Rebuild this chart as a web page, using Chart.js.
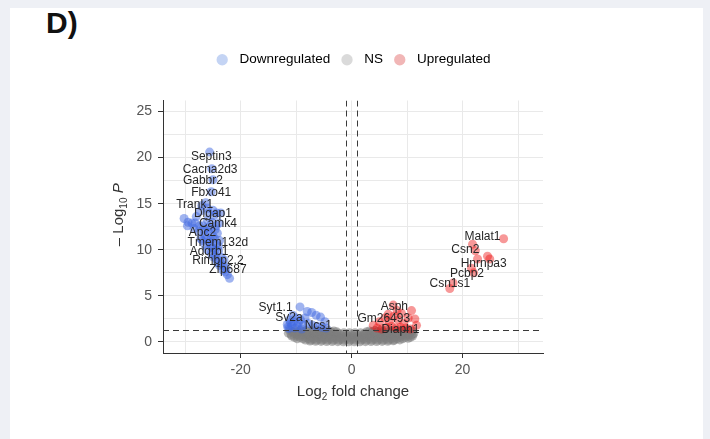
<!DOCTYPE html>
<html>
<head>
<meta charset="utf-8">
<script src="https://cdn.jsdelivr.net/npm/chart.js@4.4.1/dist/chart.umd.min.js"></script>
<style>
  html, body { margin: 0; padding: 0; }
  body { width: 710px; height: 439px; background: #eef0f5; position: relative; overflow: hidden; font-family: "Liberation Sans", Arial, sans-serif; }
  #panel { position: absolute; left: 10px; top: 8px; width: 693px; height: 431px; background: #fff; }
  #tag { position: absolute; left: 36px; top: 0px; font: bold 30px/30px "Liberation Sans", Arial, sans-serif; color: #111; }
  #volcano { position: absolute; left: 0; top: 0; }
</style>
</head>
<body>
<div id="panel">
  <div id="tag">D)</div>
  <canvas id="volcano" width="693" height="431"></canvas>
</div>
<script>
// ---------------------
// Data: [log2 fold change, -log10 p]
// ---------------------
const downPoints = [
  [-25.6, 20.6], [-25.2, 18.8], [-25.0, 17.6], [-25.3, 16.3], [-26.3, 15.1], [-27.0, 14.8],
  [-30.2, 13.4], [-29.5, 13.0], [-28.8, 12.9], [-28.0, 13.6], [-27.3, 14.2], [-26.0, 14.5],
  [-25.0, 14.3], [-24.3, 14.0], [-23.6, 14.0],
  [-28.4, 12.3], [-27.6, 12.0], [-26.8, 12.6], [-26.0, 13.2], [-25.2, 13.0], [-24.4, 12.6], [-23.9, 12.9],
  [-27.2, 11.2], [-26.5, 11.6], [-25.8, 11.9], [-25.0, 11.5], [-24.2, 11.8],
  [-26.4, 10.5], [-25.7, 10.8], [-25.0, 10.2], [-24.4, 10.6], [-23.8, 11.0],
  [-25.3, 9.6], [-24.6, 9.4], [-24.0, 9.9], [-23.5, 9.2],
  [-24.2, 8.6], [-23.5, 8.5], [-23.0, 8.9], [-22.6, 8.0], [-23.2, 7.8], [-22.4, 7.3], [-22.0, 6.9],
  [-29.6, 12.6], [-28.2, 12.9], [-27.4, 12.6], [-26.6, 12.1], [-26.0, 12.4], [-25.4, 12.3],
  [-24.6, 12.2], [-26.9, 11.0], [-26.2, 11.2], [-25.4, 11.1], [-24.7, 11.2], [-26.0, 10.0],
  [-25.3, 10.4], [-24.6, 10.0], [-24.0, 10.4], [-24.9, 9.2], [-24.3, 9.0], [-23.8, 8.3],
  [-23.1, 8.3], [-22.8, 7.6], [-25.8, 14.0], [-24.8, 13.7],
  [-9.3, 3.8], [-8.0, 3.3], [-7.2, 3.2], [-6.4, 2.9], [-5.6, 2.7], [-4.8, 2.2],
  [-10.6, 2.9], [-11.2, 2.4], [-10.0, 2.6], [-9.2, 2.4], [-8.4, 2.6],
  [-11.6, 1.9], [-10.8, 1.8], [-9.8, 1.7], [-8.8, 1.8], [-7.8, 2.0], [-7.0, 1.8], [-6.2, 1.7],
  [-5.4, 1.6], [-4.6, 1.5], [-11.3, 1.45], [-10.2, 1.5], [-9.0, 1.4],
  [-11.0, 2.1], [-10.4, 2.2], [-9.6, 2.1], [-11.5, 1.6]
];

const upPoints = [
  [27.4, 11.2], [21.8, 10.6], [22.3, 9.9], [24.5, 9.3], [24.9, 9.0], [22.7, 9.0],
  [21.6, 8.0], [22.0, 7.5], [18.3, 6.4], [17.7, 5.8],
  [7.5, 4.0], [10.8, 3.4], [9.0, 3.1], [11.4, 2.5], [11.7, 1.8], [3.9, 1.8], [5.0, 2.2],
  [6.0, 2.6], [6.8, 2.2], [7.6, 2.8], [8.4, 2.4], [9.4, 2.0], [10.2, 2.6], [6.2, 1.6],
  [7.2, 1.7], [8.0, 1.5], [8.8, 1.6], [9.8, 1.5], [10.6, 1.4], [4.6, 1.5], [5.4, 1.4],
  [8.2, 3.4], [6.6, 3.0]
];

const nsPoints = [
  [-11.2, 1.25], [-10.2, 1.25], [-9.2, 1.25], [-8.2, 1.25], [-7.2, 1.25], [-6.2, 1.25],
  [-5.2, 1.25], [-4.2, 1.25], [-3.2, 1.2],
  [3.2, 1.2], [4.2, 1.25], [5.2, 1.25], [6.2, 1.25], [7.2, 1.25], [8.2, 1.25], [9.2, 1.25],
  [10.2, 1.25], [11.0, 1.2],
  [-10.7, 1.1], [-9.7, 1.1], [-8.7, 1.1], [-7.7, 1.1], [-6.7, 1.1], [-5.7, 1.1], [-4.7, 1.1],
  [-3.7, 1.1], [-2.7, 1.1], [2.7, 1.1], [3.7, 1.1], [4.7, 1.1], [5.7, 1.1], [6.7, 1.1],
  [7.7, 1.1], [8.7, 1.1], [9.7, 1.1], [10.7, 1.1],
  [-11.4, 0.95], [-10.4, 0.95], [-9.4, 0.95], [-8.4, 0.95], [-7.4, 0.95], [-6.4, 0.95],
  [-5.4, 0.95], [-4.4, 0.95], [-3.4, 0.95], [-2.4, 0.95], [-1.4, 1.0], [-0.4, 1.0],
  [0.6, 1.0], [1.6, 1.0],
  [2.4, 0.95], [3.4, 0.95], [4.4, 0.95], [5.4, 0.95], [6.4, 0.95], [7.4, 0.95], [8.4, 0.95],
  [9.4, 0.95], [10.4, 0.95], [11.2, 0.9],
  [-10.9, 0.8], [-9.9, 0.8], [-8.9, 0.8], [-7.9, 0.8], [-6.9, 0.8], [-5.9, 0.8], [-4.9, 0.8],
  [-3.9, 0.8], [-2.9, 0.8], [-1.9, 0.8], [-0.9, 0.8], [0.1, 0.8], [1.1, 0.8], [2.1, 0.8],
  [3.1, 0.8], [4.1, 0.8], [5.1, 0.8], [6.1, 0.8], [7.1, 0.8], [8.1, 0.8], [9.1, 0.8],
  [10.1, 0.8], [10.9, 0.8],
  [-10.8, 0.65], [-9.8, 0.65], [-8.8, 0.65], [-7.8, 0.65], [-6.8, 0.65], [-5.8, 0.65],
  [-4.8, 0.65], [-3.8, 0.65], [-2.8, 0.65], [-1.8, 0.65], [-0.8, 0.65], [0.2, 0.65],
  [1.2, 0.65], [2.2, 0.65], [3.2, 0.65], [4.2, 0.65], [5.2, 0.65], [6.2, 0.65], [7.2, 0.65],
  [8.2, 0.65], [9.2, 0.65], [10.2, 0.65], [11.0, 0.65],
  [-10.3, 0.5], [-9.3, 0.5], [-8.3, 0.5], [-7.3, 0.5], [-6.3, 0.5], [-5.3, 0.5], [-4.3, 0.5],
  [-3.3, 0.5], [-2.3, 0.5], [-1.3, 0.5], [-0.3, 0.5], [0.7, 0.5], [1.7, 0.5], [2.7, 0.5],
  [3.7, 0.5], [4.7, 0.5], [5.7, 0.5], [6.7, 0.5], [7.7, 0.5], [8.7, 0.5], [9.7, 0.5],
  [10.6, 0.5],
  [-9.8, 0.35], [-8.8, 0.35], [-7.8, 0.35], [-6.8, 0.35], [-5.8, 0.35], [-4.8, 0.35],
  [-3.8, 0.35], [-2.8, 0.35], [-1.8, 0.35], [-0.8, 0.35], [0.2, 0.35], [1.2, 0.35],
  [2.2, 0.35], [3.2, 0.35], [4.2, 0.35], [5.2, 0.35], [6.2, 0.35], [7.2, 0.35], [8.2, 0.35],
  [9.2, 0.35], [10.2, 0.4],
  [-8.3, 0.2], [-7.3, 0.2], [-6.3, 0.2], [-5.3, 0.2], [-4.3, 0.2], [-3.3, 0.2], [-2.3, 0.2],
  [-1.3, 0.2], [-0.3, 0.2], [0.7, 0.2], [1.7, 0.2], [2.7, 0.2], [3.7, 0.2], [4.7, 0.2],
  [5.7, 0.2], [6.7, 0.2], [7.7, 0.2], [8.7, 0.22],
  [-7.5, 0.1], [-6.5, 0.08], [-5.5, 0.06], [-4.5, 0.05], [-3.5, 0.04], [-2.5, 0.03],
  [-1.5, 0.02], [-0.5, 0.01], [0.5, 0.01], [1.5, 0.02], [2.5, 0.03], [3.5, 0.04],
  [4.5, 0.05], [5.5, 0.06], [6.5, 0.08], [7.5, 0.12]
];

// gene labels (label anchor in data units)
const geneNames = [
  "Septin3", "Cacna2d3", "Gabbr2", "Fbxo41", "Trank1", "Dlgap1", "Camk4", "Apc2",
  "Tmem132d", "Adgrb1", "Rimbp2.2", "Zfp687", "Syt1.1", "Sv2a", "Ncs1",
  "Asph", "Gm26493", "Diaph1", "Malat1", "Csn2", "Hnrnpa3", "Pcbp2", "Csn1s1"
];
const geneLabelX = [
  -25.3, -25.5, -26.8, -25.3, -28.3, -25.0, -24.1, -26.9,
  -24.1, -25.7, -24.1, -22.3, -13.7, -11.3, -6.0,
  7.7, 5.8, 8.8, 23.6, 20.5, 23.8, 20.8, 17.7
];
const geneLabelY = [
  20.1, 18.7, 17.5, 16.2, 14.9, 13.9, 12.8, 11.9,
  10.8, 9.8, 8.8, 7.8, 3.7, 2.6, 1.8,
  3.8, 2.5, 1.3, 11.4, 10.0, 8.5, 7.4, 6.3
];

// cutoffs
const fcCutoff = 1;
const pCutoff = 1.3;

// ticks (empty label = grid line only)
const xTickValues = [-30, -20, -10, 0, 10, 20, 30];
const xTickLabels = ["", "-20", "", "0", "", "20", ""];
const yTickValues = [0, 2.5, 5, 7.5, 10, 12.5, 15, 17.5, 20, 22.5, 25];
const yTickLabels = ["0", "", "5", "", "10", "", "15", "", "20", "", "25"];

const seriesNames = ["Downregulated", "NS", "Upregulated"];

const FONT = '"Liberation Sans", Arial, sans-serif';

function toXY(arr) {
  return arr.map(p => ({ x: p[0], y: p[1] }));
}

// ---------------------
// Cutoff lines, gene labels, axis titles
// ---------------------
const extras = {
  id: "extras",
  beforeInit(chart) {
    // extra room under the legend
    const fit = chart.legend.fit;
    chart.legend.fit = function () {
      fit.call(this);
      this.height += 24;
    };
  },
  afterDatasetsDraw(chart) {
    const { ctx, chartArea: a, scales: { x, y } } = chart;
    ctx.save();
    ctx.beginPath();
    ctx.rect(a.left, a.top, a.right - a.left, a.bottom - a.top);
    ctx.clip();
    ctx.strokeStyle = "#3a3a3a";
    ctx.lineWidth = 1;
    ctx.setLineDash([6, 4]);
    [-fcCutoff, fcCutoff].forEach(v => {
      const px = Math.round(x.getPixelForValue(v)) + 0.5;
      ctx.beginPath();
      ctx.moveTo(px, a.top);
      ctx.lineTo(px, a.bottom);
      ctx.stroke();
    });
    const py = Math.round(y.getPixelForValue(pCutoff)) + 0.5;
    ctx.beginPath();
    ctx.moveTo(a.left, py);
    ctx.lineTo(a.right, py);
    ctx.stroke();
    ctx.setLineDash([]);

    ctx.fillStyle = "#262626";
    ctx.font = "12px " + FONT;
    ctx.textAlign = "center";
    ctx.textBaseline = "middle";
    geneNames.forEach((g, i) => {
      ctx.fillText(g, x.getPixelForValue(geneLabelX[i]), y.getPixelForValue(geneLabelY[i]));
    });
    ctx.restore();
  },
  afterDraw(chart) {
    const { ctx, chartArea: a } = chart;
    ctx.save();
    ctx.fillStyle = "#333";
    ctx.textBaseline = "alphabetic";
    ctx.textAlign = "left";

    // x title: Log2 fold change
    const big = "15px " + FONT, small = "10px " + FONT;
    ctx.font = big;
    const w1 = ctx.measureText("Log").width;
    const w3 = ctx.measureText(" fold change").width;
    ctx.font = small;
    const w2 = ctx.measureText("2").width;
    const cx = (a.left + a.right) / 2 - (w1 + w2 + w3) / 2;
    const by = a.bottom + 43;
    ctx.font = big;
    ctx.fillText("Log", cx, by);
    ctx.font = small;
    ctx.fillText("2", cx + w1, by + 4);
    ctx.font = big;
    ctx.fillText(" fold change", cx + w1 + w2, by);

    // y title: – Log10 P
    ctx.translate(a.left - 40, (a.top + a.bottom) / 2 - 12);
    ctx.rotate(-Math.PI / 2);
    ctx.font = big;
    const t1 = "\u2013 Log";
    const s1 = ctx.measureText(t1).width;
    ctx.font = small;
    const s2 = ctx.measureText("10").width;
    ctx.font = "italic 15px " + FONT;
    const s3 = ctx.measureText(" P").width;
    const sx = -(s1 + s2 + s3) / 2;
    ctx.font = big;
    ctx.fillText(t1, sx, 0);
    ctx.font = small;
    ctx.fillText("10", sx + s1, 4);
    ctx.font = "italic 15px " + FONT;
    ctx.fillText(" P", sx + s1 + s2, 0);
    ctx.restore();
  }
};

// ---------------------
// Chart
// ---------------------
const legendColors = ["#c4d4f4", "#dadada", "#f1b6b6"];

new Chart(document.getElementById("volcano"), {
  type: "scatter",
  data: {
    datasets: [
      {
        label: seriesNames[0],
        data: toXY(downPoints),
        backgroundColor: "rgba(65,105,225,0.5)",
        order: 1
      },
      {
        label: seriesNames[1],
        data: toXY(nsPoints),
        backgroundColor: "rgba(125,125,125,0.55)",
        order: 3
      },
      {
        label: seriesNames[2],
        data: toXY(upPoints),
        backgroundColor: "rgba(235,10,10,0.42)",
        order: 2
      }
    ]
  },
  options: {
    responsive: false,
    animation: false,
    events: [],
    elements: { point: { radius: 4.5, borderWidth: 0, hoverRadius: 4.5 } },
    layout: { padding: { left: 90, right: 160, top: 35, bottom: 56 } },
    plugins: {
      tooltip: { enabled: false },
      legend: {
        position: "top",
        fullSize: false,
        labels: {
          usePointStyle: true,
          pointStyle: "circle",
          boxHeight: 8,
          padding: 10,
          color: "#333",
          font: { size: 13.5, family: FONT },
          sort: (a, b) => a.datasetIndex - b.datasetIndex,
          generateLabels: chart => chart.data.datasets.map((d, i) => ({
            text: " " + d.label,
            fillStyle: legendColors[i],
            strokeStyle: legendColors[i],
            lineWidth: 0,
            pointStyle: "circle",
            datasetIndex: i,
            hidden: false
          }))
        }
      }
    },
    scales: {
      x: {
        type: "linear",
        min: -34,
        max: 34.5,
        afterBuildTicks: s => { s.ticks = xTickValues.map(v => ({ value: v })); },
        afterFit: s => { s.height = 30; },
        ticks: {
          autoSkip: false,
          maxRotation: 0,
          padding: 4,
          color: "#555",
          font: { size: 14, family: FONT },
          callback: (v, i) => xTickLabels[i]
        },
        grid: {
          color: "#e9e9e9",
          lineWidth: 1,
          tickLength: 5,
          tickColor: c => xTickLabels[c.index] ? "#333" : "rgba(0,0,0,0)"
        },
        border: { color: "#333", width: 1 }
      },
      y: {
        type: "linear",
        min: -1.2,
        max: 26.2,
        afterBuildTicks: s => { s.ticks = yTickValues.map(v => ({ value: v })); },
        afterFit: s => { s.width = 63; },
        ticks: {
          autoSkip: false,
          padding: 6,
          color: "#555",
          font: { size: 14, family: FONT },
          callback: (v, i) => yTickLabels[i]
        },
        grid: {
          color: "#e9e9e9",
          lineWidth: 1,
          tickLength: 5,
          tickColor: c => yTickLabels[c.index] ? "#333" : "rgba(0,0,0,0)"
        },
        border: { color: "#333", width: 1 }
      }
    }
  },
  plugins: [extras]
});
</script>
</body>
</html>
